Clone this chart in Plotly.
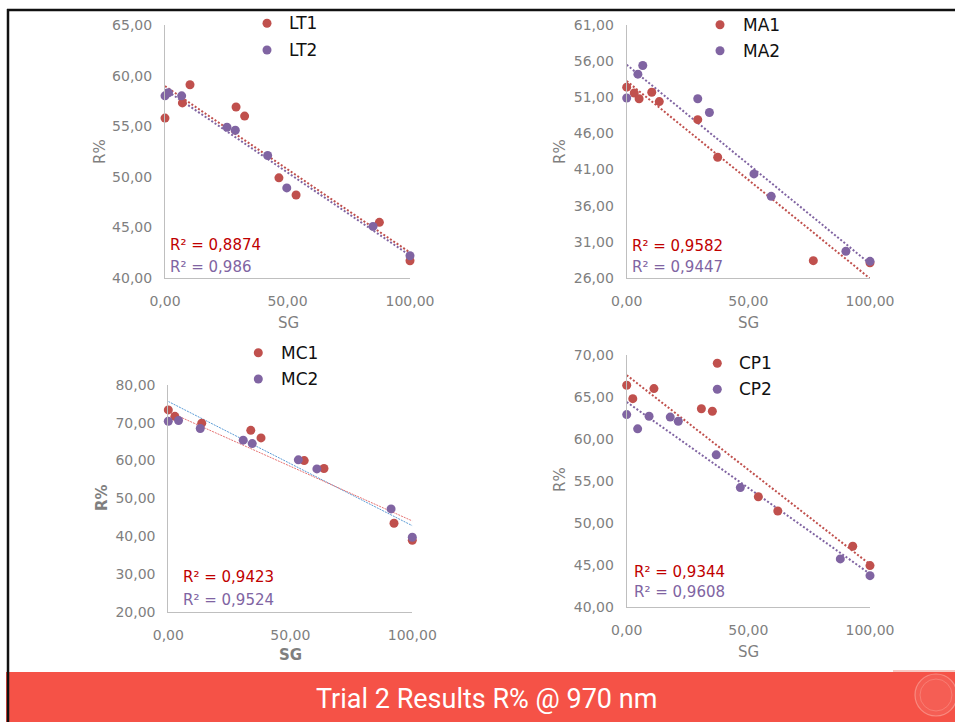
import numpy as np
import plotly.graph_objects as go

W, H = 955, 722

# ---------------- data ----------------
sg_lt1 = [0, 7.1, 10.2, 29.0, 32.5, 46.5, 53.5, 87.5, 100]
r_lt1 = [55.8, 57.3, 59.1, 56.9, 56.0, 49.9, 48.2, 45.5, 41.7]
sg_lt2 = [0, 1.4, 6.8, 25.3, 28.7, 41.9, 49.7, 84.9, 100]
r_lt2 = [58.0, 58.3, 58.0, 54.9, 54.6, 52.1, 48.9, 45.1, 42.2]

sg_ma1 = [0, 3.1, 5.1, 10.3, 13.4, 29.2, 37.4, 76.7, 100]
r_ma1 = [52.4, 51.6, 50.8, 51.7, 50.4, 47.9, 42.7, 28.4, 28.1]
sg_ma2 = [0, 4.6, 6.6, 29.2, 34.0, 52.3, 59.4, 90.1, 100]
r_ma2 = [50.9, 54.2, 55.4, 50.8, 48.9, 40.4, 37.3, 29.7, 28.3]

sg_mc1 = [0, 2.7, 13.7, 33.8, 38.0, 55.7, 63.8, 92.5, 100]
r_mc1 = [73.4, 71.7, 69.9, 68.0, 66.0, 60.0, 57.9, 43.4, 38.9]
sg_mc2 = [0, 4.2, 13.1, 30.7, 34.4, 53.3, 60.9, 91.3, 100]
r_mc2 = [70.4, 70.6, 68.5, 65.4, 64.5, 60.2, 57.8, 47.2, 39.7]

sg_cp1 = [0, 2.5, 11.2, 30.7, 35.2, 54.1, 62.1, 92.9, 100]
r_cp1 = [66.4, 64.8, 66.0, 63.6, 63.3, 53.1, 51.4, 47.2, 44.9]
sg_cp2 = [0, 4.5, 9.2, 17.9, 21.2, 36.8, 46.7, 87.8, 100]
r_cp2 = [62.9, 61.2, 62.7, 62.6, 62.1, 58.1, 54.2, 45.7, 43.7]

series_names = [("LT1", "LT2"), ("MA1", "MA2"), ("MC1", "MC2"), ("CP1", "CP2")]
r2_labels = [("R² = 0,8874", "R² = 0,986"), ("R² = 0,9582", "R² = 0,9447"),
             ("R² = 0,9423", "R² = 0,9524"), ("R² = 0,9344", "R² = 0,9608")]
y_ranges = [(40, 65, 5), (26, 61, 5), (20, 80, 10), (40, 70, 5)]
x_ticks = [0, 50, 100]
banner_title = "Trial 2 Results R% @ 970 nm"

data = [((sg_lt1, r_lt1), (sg_lt2, r_lt2)),
        ((sg_ma1, r_ma1), (sg_ma2, r_ma2)),
        ((sg_mc1, r_mc1), (sg_mc2, r_mc2)),
        ((sg_cp1, r_cp1), (sg_cp2, r_cp2))]

# ---------------- styling / layout ----------------
RED = "#C0504D"
PURPLE = "#8064A2"
R2_RED = "#C00000"
GREY = "#7F7F7F"
FONT = "DejaVu Sans"


def fx(x):
    return x / W


def fy(y):
    return 1 - y / H


# pixel boxes of plot areas: (left, right, top, bottom)
boxes = [(165, 410, 25, 278), (626.7, 870, 25, 278),
         (168.3, 412.3, 385, 611.7), (626.7, 870, 355, 606.7)]
trend_styles = [
    [dict(color=RED, width=2, dash="2px,2px"), dict(color=PURPLE, width=2, dash="2px,2px")],
    [dict(color=RED, width=2, dash="2px,2px"), dict(color=PURPLE, width=2, dash="2px,2px")],
    [dict(color="#5B9BD5", width=1, dash="2px,1px"), dict(color="#E57373", width=1, dash="2px,1px")],
    [dict(color=RED, width=2, dash="2px,2px"), dict(color=PURPLE, width=2, dash="2px,2px")],
]
legend_pos = [(267, 23.3, 50, 287), (720, 24.7, 50.7, 741),
              (258.3, 352.7, 379, 279.3), (717.3, 363.3, 389.3, 736.7)]
r2_pos = [(168.3, 245, 267), (630, 245.7, 267),
          (180.7, 577.3, 600), (632.3, 572.3, 592.3)]
ytitle_pos = [(100, 152), (560, 152), (102, 498), (560, 480)]
xtitle_pos = [(288, 323), (748, 323), (290, 655), (748, 652)]
bold_titles = [False, False, True, False]

fig = go.Figure()
annotations = []
shapes = []
layout_axes = {}

for i in range(4):
    sfx = "" if i == 0 else str(i + 1)
    xa, ya = "x" + sfx, "y" + sfx
    l, r, t, b = boxes[i]
    ymin, ymax, dy = y_ranges[i]
    cols = [RED, PURPLE]
    for j in range(2):
        xs, ys = data[i][j]
        k, c = np.polyfit(xs, ys, 1)
        xl = np.array([0.0, 100.0])
        fig.add_trace(go.Scatter(x=xl, y=k * xl + c, mode="lines", xaxis=xa, yaxis=ya,
                                 line=trend_styles[i][j], hoverinfo="skip", showlegend=False))
    for j in range(2):
        xs, ys = data[i][j]
        fig.add_trace(go.Scatter(x=xs, y=ys, mode="markers", xaxis=xa, yaxis=ya,
                                 name=series_names[i][j], cliponaxis=False,
                                 marker=dict(color=cols[j], size=9, line=dict(width=0)),
                                 showlegend=False))
    layout_axes["xaxis" + sfx] = dict(
        domain=[fx(l), fx(r)], range=[0, 100], anchor=ya, tickvals=x_ticks,
        tickformat=".2f", showgrid=False, zeroline=False, showline=True, automargin=False,
        linecolor="#BFBFBF", linewidth=1, ticks="", ticklabelstandoff=10,
        tickfont=dict(family=FONT, size=14, color=GREY), fixedrange=True)
    layout_axes["yaxis" + sfx] = dict(
        domain=[fy(b), fy(t)], range=[ymin, ymax], anchor=xa, tick0=ymin, dtick=dy,
        tickformat=".2f", showgrid=False, zeroline=False, showline=True, automargin=False,
        linecolor="#BFBFBF", linewidth=1, ticks="", ticklabelstandoff=9,
        tickfont=dict(family=FONT, size=14, color=GREY), fixedrange=True)

    # legend (custom)
    mx, my1, my2, tx = legend_pos[i]
    for my, nm, col in ((my1, series_names[i][0], RED), (my2, series_names[i][1], PURPLE)):
        rr = 4.5
        shapes.append(dict(type="circle", xref="paper", yref="paper",
                           x0=fx(mx - rr), x1=fx(mx + rr), y0=fy(my + rr), y1=fy(my - rr),
                           fillcolor=col, line=dict(width=0)))
        annotations.append(dict(xref="paper", yref="paper", x=fx(tx), y=fy(my),
                                xanchor="left", yanchor="middle", showarrow=False,
                                text=nm, font=dict(family=FONT, size=17, color="#111111")))
    # R² labels
    rx, ry1, ry2 = r2_pos[i]
    annotations.append(dict(xref="paper", yref="paper", x=fx(rx), y=fy(ry1),
                            xanchor="left", yanchor="middle", showarrow=False,
                            text=r2_labels[i][0], font=dict(family=FONT, size=15, color=R2_RED)))
    annotations.append(dict(xref="paper", yref="paper", x=fx(rx), y=fy(ry2),
                            xanchor="left", yanchor="middle", showarrow=False,
                            text=r2_labels[i][1], font=dict(family=FONT, size=15, color=PURPLE)))
    # axis titles
    bold = bold_titles[i]
    yt = "<b>R%</b>" if bold else "R%"
    xt = "<b>SG</b>" if bold else "SG"
    annotations.append(dict(xref="paper", yref="paper", x=fx(ytitle_pos[i][0]), y=fy(ytitle_pos[i][1]),
                            xanchor="center", yanchor="middle", showarrow=False, textangle=-90,
                            text=yt, font=dict(family=FONT, size=15, color=GREY)))
    annotations.append(dict(xref="paper", yref="paper", x=fx(xtitle_pos[i][0]), y=fy(xtitle_pos[i][1]),
                            xanchor="center", yanchor="middle", showarrow=False,
                            text=xt, font=dict(family=FONT, size=15, color=GREY)))

# slide frame and banner
shapes.append(dict(type="rect", xref="paper", yref="paper", x0=fx(6), x1=fx(955),
                   y0=fy(722), y1=fy(672), fillcolor="#F55247", line=dict(width=0), layer="below"))
shapes.append(dict(type="rect", xref="paper", yref="paper", x0=fx(893), x1=fx(955),
                   y0=fy(672), y1=fy(670), fillcolor="#F7C9C3", line=dict(width=0), layer="below"))
shapes.append(dict(type="circle", xref="paper", yref="paper", x0=fx(915), x1=fx(957),
                   y0=fy(716), y1=fy(674), fillcolor="rgba(255,255,255,0.07)",
                   line=dict(color="rgba(255,215,205,0.4)", width=1.2)))
shapes.append(dict(type="circle", xref="paper", yref="paper", x0=fx(920), x1=fx(952),
                   y0=fy(711), y1=fy(679), fillcolor="rgba(0,0,0,0)",
                   line=dict(color="rgba(255,215,205,0.25)", width=1)))
shapes.append(dict(type="line", xref="paper", yref="paper", x0=fx(7), x1=fx(955),
                   y0=fy(10), y1=fy(10), line=dict(color="#111111", width=2.5)))
shapes.append(dict(type="line", xref="paper", yref="paper", x0=fx(8), x1=fx(8),
                   y0=fy(9), y1=fy(722), line=dict(color="#111111", width=2.5)))
annotations.append(dict(xref="paper", yref="paper", x=fx(486.5), y=fy(699),
                        xanchor="center", yanchor="middle", showarrow=False,
                        text=banner_title, font=dict(family="Roboto", size=27, color="white")))

fig.update_layout(width=W, height=H, autosize=False,
                  margin=dict(l=0, r=0, t=0, b=0, pad=0, autoexpand=False),
                  paper_bgcolor="white", plot_bgcolor="rgba(0,0,0,0)",
                  separators=",.", showlegend=False, shapes=shapes,
                  annotations=annotations, **layout_axes)

fig.write_html("out.html", config={"displayModeBar": False})
